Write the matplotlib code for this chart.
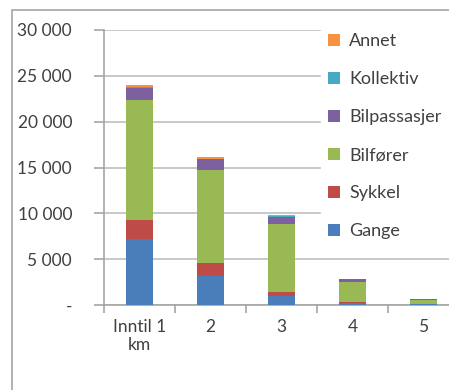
import numpy as np
import matplotlib.pyplot as plt
from matplotlib.ticker import FuncFormatter, FixedLocator
from matplotlib.patches import Rectangle

plt.rcParams['font.family'] = ['Lato', 'DejaVu Sans']

categories = ['Inntil 1\nkm', '2', '3', '4', '5']
gange = [7200, 3150, 950, 220, 60]
sykkel = [2050, 1400, 500, 120, 30]
bilforer = [13100, 10200, 7400, 2200, 420]
bilpassasjer = [1300, 1150, 800, 250, 100]
kollektiv = [100, 60, 40, 20, 5]
annet = [300, 220, 100, 30, 10]

series = [('Gange', gange, '#4A7EBB'),
          ('Sykkel', sykkel, '#BE4B48'),
          ('Bilfører', bilforer, '#98B954'),
          ('Bilpassasjer', bilpassasjer, '#7D60A0'),
          ('Kollektiv', kollektiv, '#46AAC5'),
          ('Annet', annet, '#F69240')]

W, H = 449, 390
fig = plt.figure(figsize=(W / 100, H / 100), dpi=100)
# outer chart frame (cropped on the right/bottom)
fig.patches.append(Rectangle((12 / W, -0.1), 1.2, 1.1 - 10 / H, transform=fig.transFigure,
                             fill=False, edgecolor='#A6A6A6', linewidth=1.2))
ax = fig.add_axes([104 / W, 1 - 305 / H, 355 / W, 275 / H])

x = np.arange(len(categories))
bottom = np.zeros(len(categories))
handles = []
for name, vals, col in series:
    b = ax.bar(x, vals, 0.38, bottom=bottom, color=col, label=name, zorder=3)
    handles.append(b)
    bottom += np.array(vals)

ax.set_xlim(-0.5, len(categories) - 0.5)
ax.set_ylim(0, 30000)
ax.set_yticks(np.arange(0, 30001, 5000))
ax.yaxis.set_major_formatter(FuncFormatter(
    lambda v, p: '-' if v == 0 else f'{int(v):,}'.replace(',', ' ')))
ax.set_xticks(x)
ax.set_xticklabels(categories)
ax.xaxis.set_minor_locator(FixedLocator(np.arange(-0.5, len(categories), 1)))
ax.tick_params(axis='x', which='major', length=0, pad=10, labelsize=12.5, colors='#404040')
ax.tick_params(axis='x', which='minor', length=6, color='#A6A6A6', width=1.2)
ax.tick_params(axis='y', length=7, color='#A6A6A6', width=1.2, pad=16,
               labelsize=12.5, labelcolor='#404040')
ax.grid(axis='y', color='#BFBFBF', linewidth=1.2, zorder=0)
for s in ['top', 'right']:
    ax.spines[s].set_visible(False)
for s in ['left', 'bottom']:
    ax.spines[s].set_color('#A6A6A6')
    ax.spines[s].set_linewidth(1.2)

leg = ax.legend(handles[::-1], [s[0] for s in series][::-1], loc='upper left',
                bbox_to_anchor=(321 / W, 1 - 26 / H), bbox_transform=fig.transFigure,
                frameon=True, fancybox=False, framealpha=1, edgecolor='white',
                fontsize=13, handlelength=0.65, handleheight=0.65, handletextpad=0.5,
                labelspacing=1.22, borderaxespad=0, labelcolor='#404040')
leg.set_zorder(5)

fig.savefig('out.png', dpi=100)
